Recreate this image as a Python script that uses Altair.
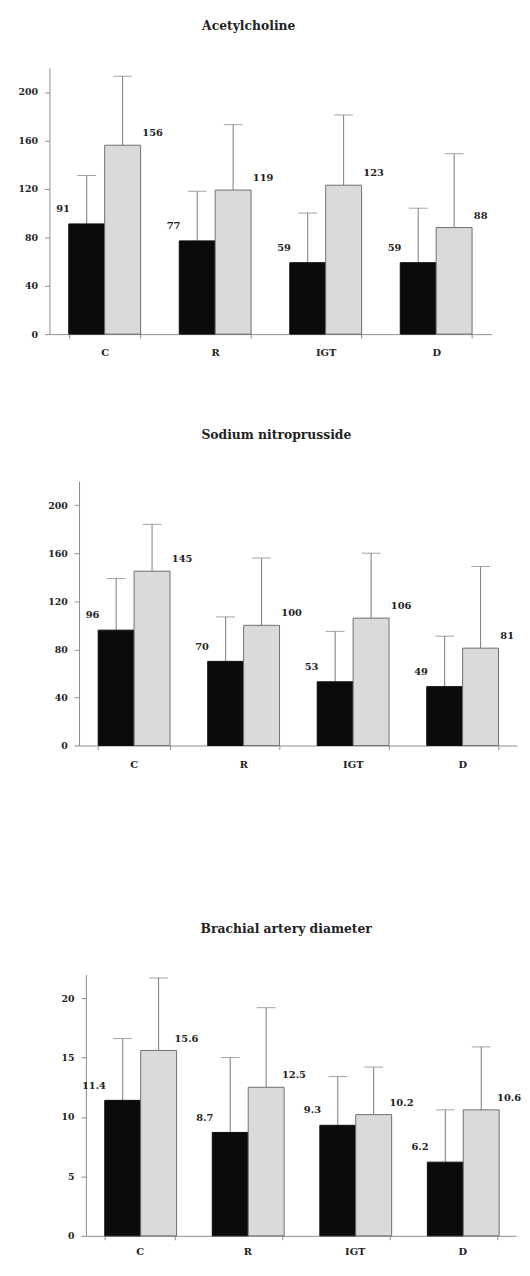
import altair as alt
import pandas as pd

categories = ["C", "R", "IGT", "D"]
groups = ["black", "gray"]

ach_black = [91, 77, 59, 59]
ach_gray = [156, 119, 123, 88]
ach_black_err = [131, 118, 100, 104]
ach_gray_err = [213, 173, 181, 149]

snp_black = [96, 70, 53, 49]
snp_gray = [145, 100, 106, 81]
snp_black_err = [139, 107, 95, 91]
snp_gray_err = [184, 156, 160, 149]

bad_black = [11.4, 8.7, 9.3, 6.2]
bad_gray = [15.6, 12.5, 10.2, 10.6]
bad_black_err = [16.6, 15.0, 13.4, 10.6]
bad_gray_err = [21.7, 19.2, 14.2, 15.9]

ach_ticks = [0, 40, 80, 120, 160, 200]
snp_ticks = [0, 40, 80, 120, 160, 200]
bad_ticks = [0, 5, 10, 15, 20]

FONT = "DejaVu Serif"
AX = "#8c8c8c"
TXT = "#222222"
ERR = "#7a7a7a"


def panel(title, black, gray, black_err, gray_err, decimals, ymax, ticks,
          width, height, title_dx, title_offset, xlab_pad, gray_dx):
    rows = []
    for i, c in enumerate(categories):
        for g, v, e in (("black", black[i], black_err[i]), ("gray", gray[i], gray_err[i])):
            rows.append({"cat": c, "grp": g, "val": v, "err": e,
                         "lab": f"{v:.{decimals}f}"})
    df = pd.DataFrame(rows)

    x = alt.X("cat:N", sort=categories, title=None,
              scale=alt.Scale(paddingInner=0.35, paddingOuter=0.175),
              axis=alt.Axis(labelAngle=0, tickBand="extent", tickSize=4,
                            labelPadding=xlab_pad, domainColor=AX, tickColor=AX,
                            labelFont=FONT, labelFontWeight="bold",
                            labelFontSize=10, labelColor=TXT))
    xo = alt.XOffset("grp:N", sort=groups,
                     scale=alt.Scale(paddingInner=0, paddingOuter=0))
    yscale = alt.Scale(domain=[0, ymax], nice=False, zero=True)
    yaxis = alt.Axis(values=ticks, grid=False, tickSize=5, labelPadding=7,
                     minExtent=34, maxExtent=34, domainColor=AX, tickColor=AX,
                     labelFont=FONT, labelFontWeight="bold", labelFontSize=9.5,
                     labelColor=TXT)
    y = alt.Y("val:Q", title=None, scale=yscale, axis=yaxis)
    y_err = alt.Y("err:Q", title=None, scale=yscale, axis=yaxis)

    base = alt.Chart(df)
    rules = base.mark_rule(color=ERR, strokeWidth=1).encode(
        x=x, xOffset=xo, y=y, y2="err:Q")
    caps = base.mark_tick(color=ERR, thickness=1, size=19).encode(
        x=x, xOffset=xo, y=y_err)
    bars = base.mark_bar(strokeWidth=1).encode(
        x=x, xOffset=xo, y=y,
        fill=alt.Fill("grp:N", scale=alt.Scale(domain=groups, range=["#0b0b0b", "#dadada"]), legend=None),
        stroke=alt.Stroke("grp:N", scale=alt.Scale(domain=groups, range=["#0b0b0b", "#6f6f6f"]), legend=None))
    tb = base.transform_filter(alt.datum.grp == "black").mark_text(
        align="right", baseline="middle", dx=-17, dy=-15, font=FONT,
        fontWeight="bold", fontSize=10, color=TXT).encode(
        x=x, xOffset=xo, y=y, text="lab:N")
    tg = base.transform_filter(alt.datum.grp == "gray").mark_text(
        align="left", baseline="middle", dx=gray_dx, dy=-12, font=FONT,
        fontWeight="bold", fontSize=10, color=TXT).encode(
        x=x, xOffset=xo, y=y, text="lab:N")

    return alt.layer(rules, caps, bars, tb, tg).properties(
        width=width, height=height,
        title=alt.Title(title, font=FONT, fontSize=12.5, fontWeight="bold",
                        color=TXT, anchor="middle", dx=title_dx,
                        offset=title_offset))


def spacer(w):
    return alt.Chart(pd.DataFrame({"a": [0]})).mark_point(opacity=0).encode(
        x=alt.X("a:Q", axis=None), y=alt.Y("a:Q", axis=None)
    ).properties(width=w, height=1)


p1 = panel("Acetylcholine", ach_black, ach_gray, ach_black_err, ach_gray_err,
           0, 220, ach_ticks, 448, 270, -22, 36, 10, 20)
p2 = panel("Sodium nitroprusside", snp_black, snp_gray, snp_black_err, snp_gray_err,
           0, 220, snp_ticks, 444, 268, -22, 40, 10, 20)
p3 = panel("Brachial artery diameter", bad_black, bad_gray, bad_black_err, bad_gray_err,
           1, 22, bad_ticks, 436, 265, -15, 39, 7, 16)

row1 = alt.hconcat(spacer(8), p1, spacing=0)
row2 = alt.hconcat(spacer(38), p2, spacing=0)
row3 = alt.hconcat(spacer(45), p3, spacing=0)

inner = alt.vconcat(row1, row2, spacing=72)
chart = alt.vconcat(inner, row3, spacing=156).properties(
    padding={"left": 0, "top": 3, "right": 0, "bottom": 0}
).configure_view(stroke=None)

chart.save("out.html", embed_options={"renderer": "svg", "actions": False})
